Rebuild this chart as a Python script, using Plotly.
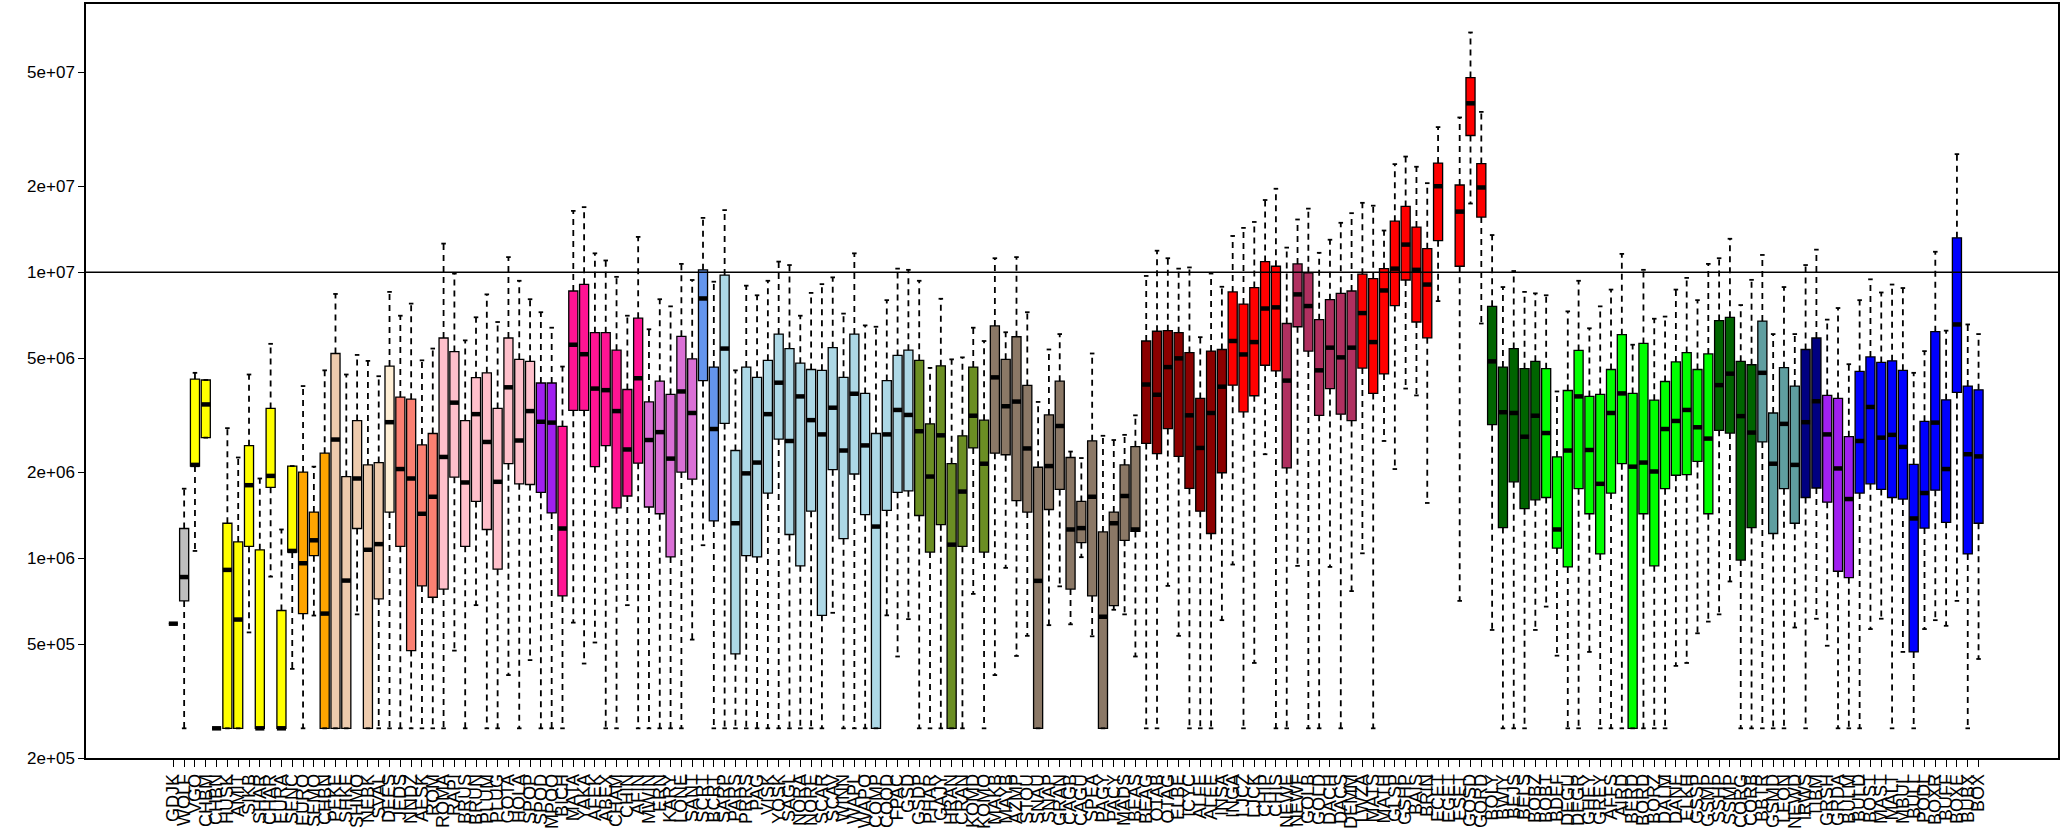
import numpy as np
import plotly.graph_objects as go

labels = [
    "GDJK","WOLF","VGO","CHBM","CHBN","HUSK","AMIT","SIKB","SHAR","CHAR","EURA","SENC",
    "EURO","SEMO","CHBN","PEKE","SHKE","SHMO","NEBK","SVAL","DEES","JEDS","NNDZ","AESK",
    "ROM","ROMA","RAPI","BRUS","BRUN","PLUM","PLUG","GOTA","HOLA","SPOP","SPOD","MPOO",
    "BICH","MATA","YAKA","AFEK","ABEX","CHAM","CHIN","AFIN","MWIN","ERN","KARY","LONE",
    "SANT","SCRT","BCRT","SARP","PARS","PRRS","PAG","VISK","YOSK","SAGL","NORA","NORE",
    "SCAR","SCAV","WINN","WAPL","WAPO","COMP","COOD","FPAC","GSD","GSDP","PHAR","GAJY",
    "HRAN","CRAN","KOMD","KOMO","MAKB","MAYB","AZMP","STOU","SNAU","SNAP","GRAN","CAGB",
    "CAGU","SPEA","PAGY","PACY","MADS","BEAS","BEAG","OTAB","OTAG","ELBE","ICYC","ALFE",
    "ALEE","INSA","INGA","LJCZ","LJCK","CHIP","CHIS","NEWE","NEWF","GOLB","GOLD","DACH",
    "DACS","DEMM","LWZA","MATS","MATH","GLSP","GSHP","BAIS","BRIN","ECET","EGET","ESET",
    "GOSD","GORD","BOLY","BWIY","BEJS","BELS","BOBZ","BOBT","BDEF","DEGU","DEGR","GHEY",
    "GREY","AFFS","AIRD","BERD","BORD","BORZ","DALM","DANE","ELKH","GSSP","GSMP","SSHP",
    "SSMP","CORG","CORB","BBTR","GSMD","LEON","NEWD","IRWS","TIBM","GRSH","GRDA","BULM",
    "BULD","BOST","MAST","MALT","MBUL","BULL","PODL","BOXR","BUFF","BOXE","BUBX","BOX",
]

# box statistics, in millions (None = no data)
lower = [
    .59,.254,1.06,2.64,.254,.254,.254,.55,.254,.862,.254,.41,
    .254,.63,.254,.254,.254,.636,.254,.254,.254,.254,.254,.254,
    .254,.254,.475,.254,.685,.254,.254,.39,.254,.44,.254,.254,
    .254,.595,.428,.507,.254,.254,.685,.254,.254,.254,.254,.254,
    .519,1.11,.254,.254,.254,.254,.254,.254,.254,.254,.254,.254,
    .254,.644,.254,.254,.254,.254,.631,.453,.612,.254,.254,.254,
    .254,.254,.75,.254,.39,.925,.455,.535,.254,.583,.797,.587,
    1.008,.533,.254,.66,.636,.453,.254,.254,.80,.535,.254,.254,
    .254,.607,.95,.254,.43,2.31,.254,.254,.94,.254,.254,.932,
    .254,.767,1.04,.254,2.57,2.05,3.92,3.71,1.56,7.93,None,.709,
    17.4,6.62,.561,.254,.254,.254,.561,.677,.456,.254,.254,.47,
    .254,.254,.254,.254,.254,.254,.254,.42,.43,.546,.60,.636,
    .829,.254,.254,.254,.254,.254,.572,.254,.614,.494,.254,.254,
    .254,.565,.614,.254,.47,.254,.565,.607,.58,.709,.254,.444,
]
q1 = [
    .59,.709,2.10,2.64,.254,.254,.254,1.10,.254,1.77,.254,1.05,
    .64,1.02,.254,.254,.254,1.27,.254,.72,1.45,1.10,.475,.80,
    .73,.78,1.92,1.10,1.58,1.26,.915,2.14,1.82,1.81,1.70,1.44,
    .738,3.29,3.29,2.09,2.475,1.50,1.65,2.15,1.51,1.43,1.01,2.0,
    1.89,4.18,1.35,2.96,.463,1.02,1.01,1.69,2.61,1.21,.94,1.46,
    .631,2.04,1.17,1.97,1.42,.254,1.47,1.70,1.72,1.41,1.05,1.31,
    .254,1.10,2.43,1.05,2.33,2.30,1.59,1.45,.254,1.48,1.74,.78,
    1.133,.738,.254,.682,1.155,1.24,2.52,2.32,2.84,2.27,1.755,1.46,
    1.22,1.99,4.03,3.25,3.70,4.73,4.52,2.07,6.45,5.30,3.16,3.92,
    3.19,3.03,4.625,3.77,4.41,7.65,9.4,6.70,5.90,12.9,None,10.5,
    30.1,15.6,2.93,1.28,1.85,1.49,1.60,1.63,1.085,.932,1.75,1.43,
    1.035,1.69,2.14,.254,1.43,.94,1.75,1.95,1.96,2.18,1.43,2.80,
    2.74,.985,1.28,2.55,1.22,1.75,1.325,1.63,1.76,1.57,.90,.855,
    1.69,1.82,1.74,1.63,1.61,.47,1.274,1.73,1.335,3.80,1.035,1.325,
]
median = [
    .59,.859,2.12,3.45,.254,.91,.61,1.80,.254,1.94,.254,1.06,
    .96,1.155,.64,2.60,.835,1.90,1.07,1.12,2.99,2.05,1.90,1.43,
    1.64,2.26,3.50,1.84,3.19,2.55,1.85,3.96,2.58,3.27,3.0,2.98,
    1.27,5.58,5.17,3.92,3.87,3.27,2.40,4.26,2.59,2.76,2.23,3.83,
    3.22,8.1,2.83,5.41,1.325,1.98,2.16,3.19,4.11,2.57,3.68,3.04,
    2.71,3.36,2.38,3.76,2.48,1.29,2.71,3.30,3.17,2.78,1.93,2.69,
    1.115,1.71,3.15,2.14,4.29,3.40,3.53,2.42,.833,2.10,2.9,1.26,
    1.274,1.64,.624,1.325,1.65,1.26,4.05,3.73,4.66,5.0,3.16,2.43,
    3.22,3.98,5.75,5.16,5.70,7.47,7.54,4.18,8.37,7.62,4.54,5.45,
    5.04,5.45,7.2,5.70,8.64,10.3,12.5,10.2,9.06,20.0,None,16.3,
    39.0,19.8,4.88,3.24,3.22,2.66,3.15,2.74,1.26,2.38,3.68,2.39,
    1.82,3.22,3.77,2.09,2.16,2.01,2.83,3.02,3.30,2.87,2.62,4.03,
    4.42,3.14,2.75,4.45,2.14,2.95,2.12,2.99,3.54,2.71,2.06,1.61,
    2.57,3.38,2.64,2.70,2.45,1.377,1.69,2.98,2.05,6.57,2.31,2.27,
]
q3 = [
    .59,1.27,4.23,4.20,.254,1.325,1.14,2.475,1.07,3.34,.656,2.10,
    2.00,1.45,2.33,5.20,1.93,3.03,2.12,2.16,4.70,3.66,3.60,2.49,
    2.73,5.89,5.28,3.03,4.28,4.45,3.34,5.89,4.96,4.88,4.10,4.10,
    2.89,8.6,9.08,6.15,6.15,5.34,3.89,6.91,3.52,4.16,3.74,5.97,
    4.98,10.2,4.66,9.78,2.38,4.66,4.29,4.92,6.08,5.41,4.81,4.57,
    4.54,5.45,4.29,6.08,3.77,2.73,4.18,5.12,5.34,4.92,2.95,4.71,
    2.14,2.68,4.66,3.04,6.49,4.96,5.95,4.02,2.08,3.17,4.16,2.25,
    1.58,2.574,1.235,1.45,2.12,2.455,5.75,6.22,6.25,6.15,5.24,3.62,
    5.30,5.37,8.54,7.74,8.84,10.9,10.5,6.62,10.7,9.96,6.83,8.02,
    8.44,8.6,9.85,9.5,10.3,15.1,17.0,14.4,12.1,24.1,None,20.2,
    48.0,24.0,7.60,4.66,5.41,4.60,4.88,4.60,2.26,3.86,5.33,3.68,
    3.74,4.57,6.05,3.77,5.64,3.57,4.15,4.86,5.24,4.57,5.18,6.78,
    6.96,4.88,4.75,6.75,3.22,4.64,4.0,5.37,5.89,3.71,3.62,2.66,
    4.5,5.06,4.84,4.9,4.54,2.13,3.01,6.2,3.58,13.2,4.0,3.88,
]
upper = [
    .59,1.75,4.45,4.20,.254,2.85,2.25,4.39,1.90,5.62,1.26,2.10,
    4.0,2.09,4.54,8.4,4.39,5.14,4.90,4.33,8.54,7.05,7.77,4.92,
    5.41,12.6,9.9,5.78,6.96,8.37,6.70,11.3,9.34,8.05,7.25,6.4,
    4.68,16.4,16.9,11.65,11.0,9.64,7.05,13.3,6.32,8.05,7.60,10.7,
    9.4,15.5,9.27,16.5,4.54,8.98,8.31,9.34,10.9,10.6,7.05,8.47,
    9.09,9.6,7.17,11.65,6.52,6.45,7.99,10.3,10.2,9.34,4.63,8.08,
    4.96,5.04,6.4,5.75,11.2,6.17,11.3,7.25,3.52,5.37,6.08,2.36,
    2.24,5.2,2.68,2.59,2.70,3.16,9.71,11.9,11.2,10.3,10.4,5.93,
    9.9,8.9,13.4,14.3,15.0,17.9,19.6,12.2,15.3,16.7,11.7,13.0,
    14.9,16.1,17.5,17.1,14.0,23.9,25.4,23.4,20.5,32.2,None,34.8,
    69.0,36.4,13.5,8.88,10.1,8.54,8.44,8.31,3.83,7.30,9.34,6.37,
    7.60,8.70,11.6,5.58,10.2,6.88,7.0,8.70,9.56,7.99,10.7,11.2,
    13.1,7.68,9.41,11.5,6.08,8.88,6.08,10.6,12.0,6.83,7.5,4.77,
    7.99,9.45,8.5,9.06,8.81,4.45,5.30,11.8,6.25,25.9,6.57,6.08,
]

color_runs = [
    ("#BEBEBE", 2), ("#FFFF00", 10), ("#FFA500", 3), ("#EECBAD", 5), ("#FFEFD5", 1),
    ("#FA8072", 4), ("#FFC0CB", 9), ("#A020F0", 2), ("#FF1493", 8), ("#DA70D6", 5),
    ("#6495ED", 2), ("#ADD8E6", 18), ("#6B8E23", 7), ("#8B7866", 14), ("#8B0000", 8),
    ("#FF0000", 5), ("#B03060", 7), ("#FF0000", 12), ("#006400", 5), ("#00FF00", 16),
    ("#006400", 4), ("#5F9EA0", 4), ("#000080", 2), ("#A020F0", 3), ("#0000FF", 12),
]

n = len(labels)
SCALE = 1e6
hw = 0.42   # half box width
cw = 0.21   # half cap width

fig = go.Figure()

# whiskers (dashed) and caps
wx, wy, cx, cy = [], [], [], []
for i in range(n):
    if median[i] is None:
        continue
    lo, a, b, hi = lower[i]*SCALE, q1[i]*SCALE, q3[i]*SCALE, upper[i]*SCALE
    if hi > b:
        wx += [i, i, None]; wy += [b, hi, None]
    if lo < a:
        wx += [i, i, None]; wy += [a, lo, None]
    cx += [i-cw, i+cw, None, i-cw, i+cw, None]
    cy += [hi, hi, None, lo, lo, None]

fig.add_trace(go.Scatter(x=wx, y=wy, mode="lines", line=dict(color="black", width=1.8, dash="6px,5px"),
                         hoverinfo="skip", showlegend=False))
fig.add_trace(go.Scatter(x=cx, y=cy, mode="lines", line=dict(color="black", width=1.8),
                         hoverinfo="skip", showlegend=False))

# boxes, one trace per colour run
start = 0
for col, cnt in color_runs:
    ids = [i for i in range(start, start+cnt) if median[i] is not None]
    start += cnt
    fig.add_trace(go.Box(
        x=ids,
        q1=[q1[i]*SCALE for i in ids],
        median=[median[i]*SCALE for i in ids],
        q3=[q3[i]*SCALE for i in ids],
        lowerfence=[q1[i]*SCALE for i in ids],
        upperfence=[q3[i]*SCALE for i in ids],
        fillcolor=col, line=dict(color="black", width=1.3),
        width=2*hw, whiskerwidth=0, boxpoints=False,
        hoverinfo="skip", showlegend=False,
    ))

# thick medians
mx, my = [], []
for i in range(n):
    if median[i] is None:
        continue
    mx += [i-hw, i+hw, None]; my += [median[i]*SCALE, median[i]*SCALE, None]
fig.add_trace(go.Scatter(x=mx, y=my, mode="lines", line=dict(color="black", width=4.5),
                         hoverinfo="skip", showlegend=False))

XR = [-8.08, 174.35]
fig.add_trace(go.Scatter(x=XR, y=[1e7, 1e7], mode="lines", line=dict(color="black", width=1.5),
                         hoverinfo="skip", showlegend=False))

ytv = [2e5, 5e5, 1e6, 2e6, 5e6, 1e7, 2e7, 5e7]
ytt = ["2e+05", "5e+05", "1e+06", "2e+06", "5e+06", "1e+07", "2e+07", "5e+07"]

fig.update_layout(
    width=2067, height=838,
    margin=dict(l=86, r=9, t=4, b=80),
    plot_bgcolor="white", paper_bgcolor="white",
    boxmode="overlay", showlegend=False,
    font=dict(family="Liberation Sans, Arial, sans-serif", size=17, color="black"),
)
fig.update_xaxes(range=XR, tickmode="array", tickvals=list(range(n)), ticktext=labels,
                 tickangle=-90, ticks="outside", ticklen=7, tickwidth=1.3, tickcolor="black",
                 showline=True, linecolor="black", linewidth=1.5, mirror=True,
                 showgrid=False, zeroline=False, automargin=False, tickfont=dict(size=18))
fig.update_yaxes(type="log", range=[np.log10(2e5), 7.9385], tickmode="array",
                 tickvals=ytv, ticktext=ytt, ticks="outside", ticklen=6, tickwidth=1.3,
                 tickcolor="black", showline=True, linecolor="black", linewidth=1.5, mirror=True,
                 showgrid=False, zeroline=False, automargin=False, tickfont=dict(size=17))

fig.write_html("out.html", config={"displayModeBar": False},
               post_script="document.body.style.margin='0px';document.body.style.overflow='hidden';")
